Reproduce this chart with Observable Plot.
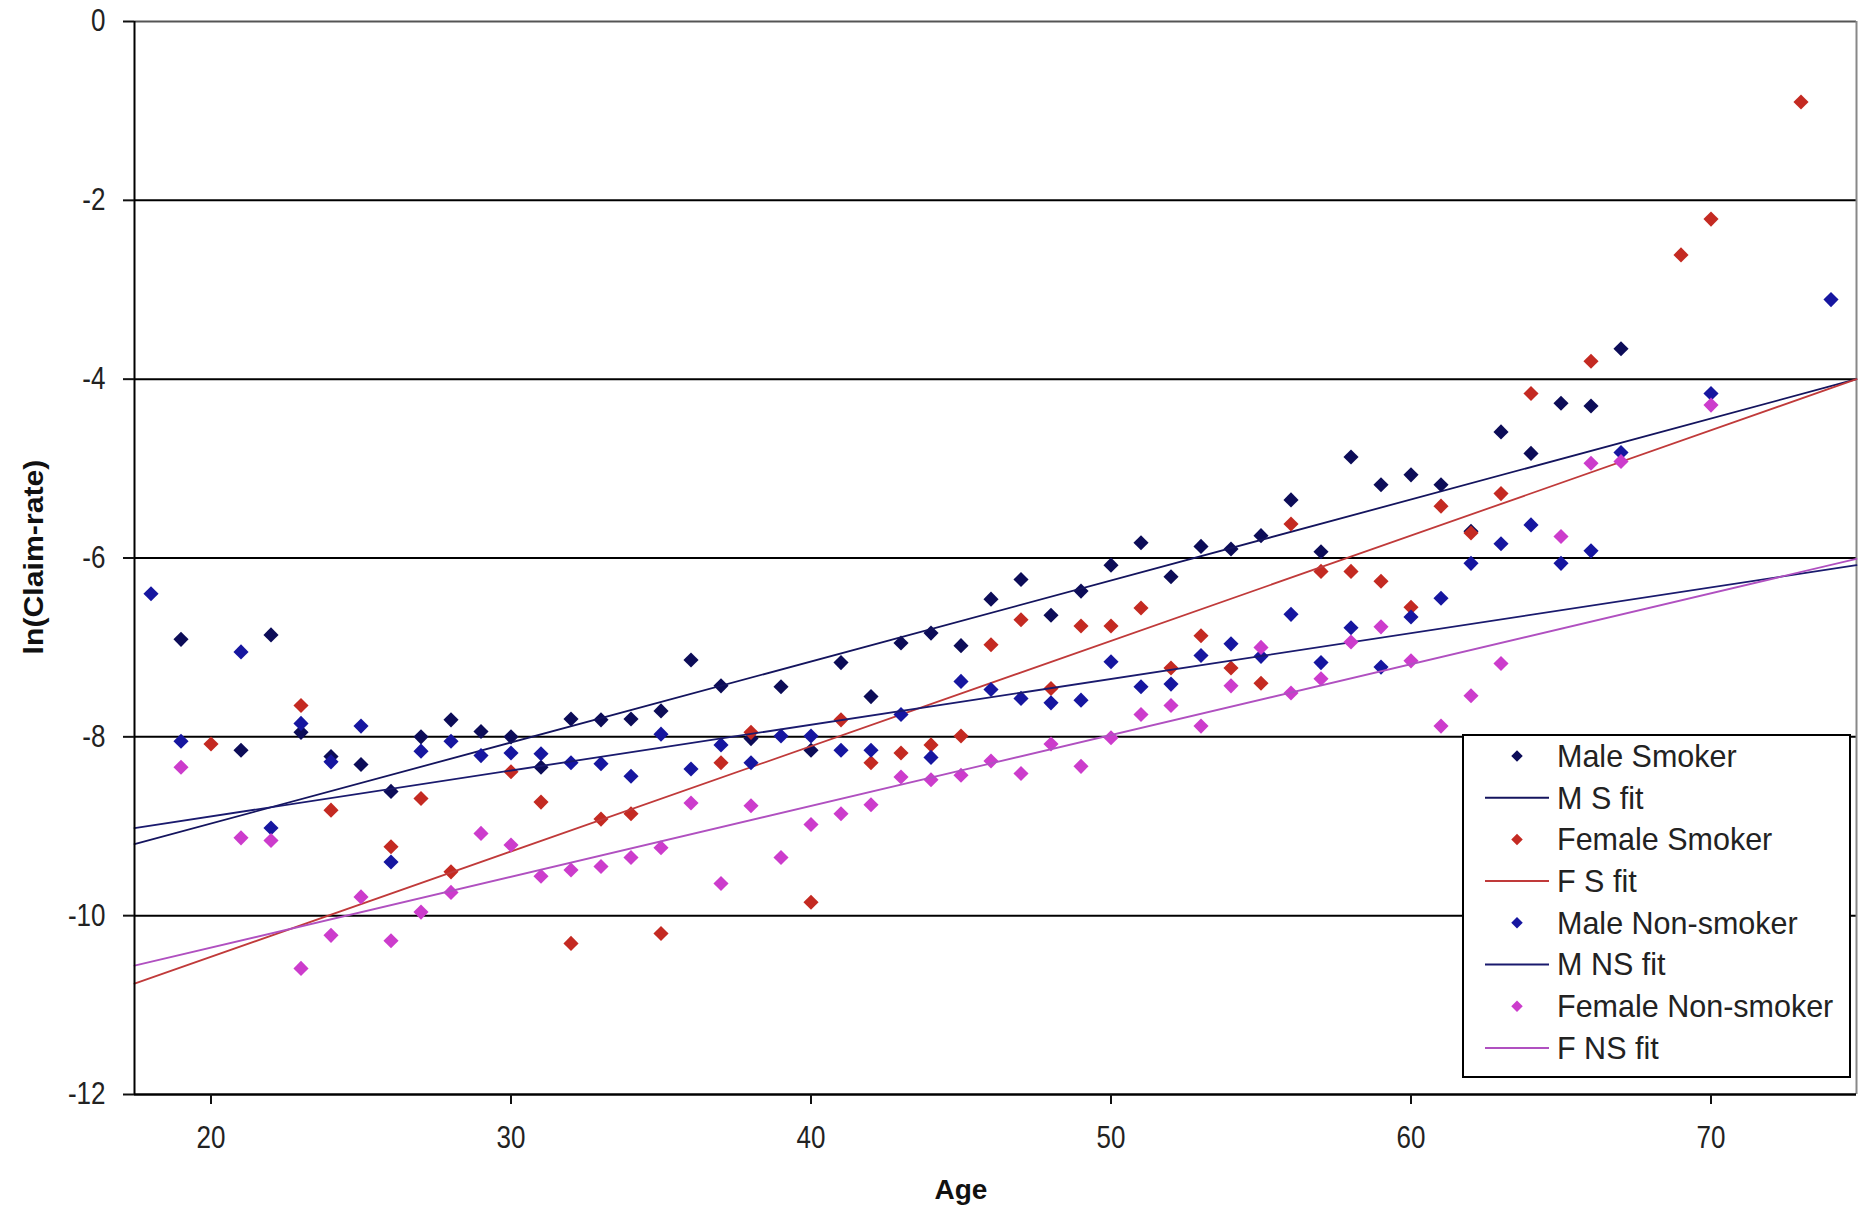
<!DOCTYPE html>
<html>
<head>
<meta charset="utf-8">
<script src="https://cdn.jsdelivr.net/npm/d3@7"></script>
<script src="https://cdn.jsdelivr.net/npm/@observablehq/plot@0.6"></script>
<style>
html, body { margin: 0; padding: 0; background: #fff; }
#chart { position: relative; width: 1860px; height: 1213px; }
</style>
</head>
<body>
<div id="chart"></div>
<script>
// ---------------- DATA ----------------
const maleSmokerAges = [19,21,22,23,24,25,26,27,28,29,30,31,32,33,34,35,36,37,38,39,40,41,42,43,44,45,46,47,48,49,50,51,52,53,54,55,56,57,58,59,60,61,62,63,64,65,66,67];
const maleSmokerValues = [-6.91,-8.15,-6.86,-7.95,-8.22,-8.31,-8.61,-8.00,-7.81,-7.94,-8.00,-8.34,-7.80,-7.81,-7.80,-7.71,-7.14,-7.43,-8.02,-7.44,-8.15,-7.17,-7.55,-6.95,-6.84,-6.98,-6.46,-6.24,-6.64,-6.37,-6.08,-5.83,-6.21,-5.87,-5.90,-5.75,-5.35,-5.93,-4.87,-5.18,-5.07,-5.18,-5.70,-4.59,-4.83,-4.27,-4.30,-3.66];

const femaleSmokerAges = [20,23,24,26,27,28,30,31,32,33,34,35,37,38,40,41,42,43,44,45,46,47,48,49,50,51,52,53,54,55,56,57,58,59,60,61,62,63,64,66,69,70,73];
const femaleSmokerValues = [-8.08,-7.65,-8.82,-9.23,-8.69,-9.51,-8.39,-8.73,-10.31,-8.92,-8.86,-10.20,-8.29,-7.95,-9.85,-7.81,-8.29,-8.18,-8.09,-7.99,-6.97,-6.69,-7.46,-6.76,-6.76,-6.56,-7.23,-6.87,-7.23,-7.40,-5.62,-6.15,-6.15,-6.26,-6.55,-5.42,-5.72,-5.28,-4.16,-3.80,-2.61,-2.21,-0.90];

const maleNonSmokerAges = [18,19,21,22,23,24,25,26,27,28,29,30,31,32,33,34,35,36,37,38,39,40,41,42,43,44,45,46,47,48,49,50,51,52,53,54,55,56,57,58,59,60,61,62,63,64,65,66,67,70,74];
const maleNonSmokerValues = [-6.40,-8.05,-7.05,-9.02,-7.85,-8.28,-7.88,-9.40,-8.16,-8.05,-8.21,-8.18,-8.19,-8.29,-8.30,-8.44,-7.97,-8.36,-8.09,-8.29,-7.99,-7.99,-8.15,-8.15,-7.75,-8.23,-7.38,-7.47,-7.57,-7.62,-7.59,-7.16,-7.44,-7.41,-7.09,-6.96,-7.10,-6.63,-7.17,-6.78,-7.22,-6.66,-6.45,-6.06,-5.84,-5.63,-6.06,-5.92,-4.82,-4.16,-3.11];

const femaleNonSmokerAges = [19,21,22,23,24,25,26,27,28,29,30,31,32,33,34,35,36,37,38,39,40,41,42,43,44,45,46,47,48,49,50,51,52,53,54,55,56,57,58,59,60,61,62,63,65,66,67,70];
const femaleNonSmokerValues = [-8.34,-9.13,-9.16,-10.59,-10.22,-9.79,-10.28,-9.96,-9.74,-9.08,-9.21,-9.56,-9.49,-9.45,-9.35,-9.24,-8.74,-9.64,-8.77,-9.35,-8.98,-8.86,-8.76,-8.45,-8.48,-8.43,-8.27,-8.41,-8.08,-8.33,-8.01,-7.75,-7.65,-7.88,-7.43,-7.00,-7.51,-7.35,-6.94,-6.77,-7.15,-7.88,-7.54,-7.18,-5.76,-4.94,-4.92,-4.29];

// fitted lines: values at the two ends of the age axis
const fitAges = [17.45, 74.85];
const msFitValues = [-9.20, -4.00];
const fsFitValues = [-10.76, -4.00];
const mnsFitValues = [-9.02, -6.08];
const fnsFitValues = [-10.56, -6.01];

const xTicks = [20, 30, 40, 50, 60, 70];
const yTicks = [0, -2, -4, -6, -8, -10, -12];
const xDomain = [17.45, 74.85];
const yDomain = [-12, 0];

const seriesNames = ["Male Smoker", "M S fit", "Female Smoker", "F S fit", "Male Non-smoker", "M NS fit", "Female Non-smoker", "F NS fit"];
const seriesColors = ["#0c0c58", "#14145e", "#c42a22", "#c03a3a", "#1616a0", "#1a1a6e", "#cc3ccc", "#b050c0"];
const seriesKinds = ["dot", "line", "dot", "line", "dot", "line", "dot", "line"];

// ---------------- TABLES ----------------
const rows = (ages, values) => ages.map((a, i) => ({age: a, value: values[i]}));
const seriesData = [
  rows(maleSmokerAges, maleSmokerValues),
  rows(fitAges, msFitValues),
  rows(femaleSmokerAges, femaleSmokerValues),
  rows(fitAges, fsFitValues),
  rows(maleNonSmokerAges, maleNonSmokerValues),
  rows(fitAges, mnsFitValues),
  rows(femaleNonSmokerAges, femaleNonSmokerValues),
  rows(fitAges, fnsFitValues)
];

const dataMarks = seriesData.map((d, i) => seriesKinds[i] === "dot"
  ? Plot.dot(d, {x: "age", y: "value", fill: seriesColors[i], r: 6.8, symbol: "diamond2"})
  : Plot.line(d, {x: "age", y: "value", stroke: seriesColors[i], strokeWidth: 1.8}));

const W = 1860, H = 1213;
const mL = 134, mR = 4, mT = 21, mB = 119;

const chart = Plot.plot({
  width: W,
  height: H,
  marginLeft: mL,
  marginRight: mR,
  marginTop: mT,
  marginBottom: mB,
  style: {fontFamily: "'Liberation Sans', Arial, sans-serif", fontSize: "31px", color: "#111", background: "#fff"},
  x: {domain: xDomain},
  y: {domain: yDomain},
  marks: [
    Plot.ruleY(yTicks.filter(v => v !== 0 && v !== -12), {stroke: "#000", strokeWidth: 2}),
    Plot.ruleY([0], {stroke: "#555", strokeWidth: 2}),
    Plot.ruleX([xDomain[1]], {stroke: "#888", strokeWidth: 2}),
    ...dataMarks,
    Plot.ruleX([xDomain[0]], {stroke: "#000", strokeWidth: 2}),
    Plot.ruleY([-12], {stroke: "#000", strokeWidth: 2.5}),
    Plot.axisX({ticks: xTicks, tickSize: 10, tickPadding: 21, tickFormat: d => String(d), label: null, strokeWidth: 2}),
    Plot.axisY({ticks: yTicks, tickSize: 11, tickPadding: 18, tickFormat: d => String(d), label: null, strokeWidth: 2})
  ]
});

document.getElementById("chart").appendChild(chart);

// narrow the tick labels a little, as in the reference
chart.querySelectorAll('g[aria-label$="tick label"] text').forEach(t => {
  let tr = t.getAttribute("transform") || "";
  const x = t.getAttribute("x"), y = t.getAttribute("y");
  if (x != null && x !== "" && !isNaN(+x)) { tr += ` translate(${+x},0)`; t.removeAttribute("x"); }
  if (y != null && y !== "" && !isNaN(+y)) { tr += ` translate(0,${+y})`; t.removeAttribute("y"); }
  t.setAttribute("transform", tr + " scale(0.84,1)");
  t.setAttribute("fill", "#222");
});

// ---------------- TITLES & LEGEND ----------------
const svg = d3.select(chart);
const font = "'Liberation Sans', Arial, sans-serif";

svg.append("text")
  .attr("transform", "translate(33,557) rotate(-90) scale(1.08,1)")
  .attr("text-anchor", "middle")
  .attr("dominant-baseline", "central")
  .attr("font-family", font)
  .attr("font-weight", "bold")
  .attr("font-size", 28)
  .attr("fill", "#111")
  .text("ln(Claim-rate)");

svg.append("text")
  .attr("x", 961).attr("y", 1199)
  .attr("text-anchor", "middle")
  .attr("font-family", font)
  .attr("font-weight", "bold")
  .attr("font-size", 28)
  .attr("fill", "#111")
  .text("Age");

const lg = svg.append("g").attr("class", "legend");
const lgX = 1463, lgY = 735, lgW = 387, lgH = 342;
lg.append("rect").attr("x", lgX).attr("y", lgY).attr("width", lgW).attr("height", lgH)
  .attr("fill", "#fff").attr("stroke", "#000").attr("stroke-width", 2);
const rowY0 = 756, rowStep = 41.7, fs = 30.5;
seriesNames.forEach((name, i) => {
  const cy = rowY0 + i * rowStep;
  if (seriesKinds[i] === "dot") {
    lg.append("path")
      .attr("d", d3.symbol(d3.symbolDiamond2, 85)())
      .attr("transform", `translate(1517,${cy})`)
      .attr("fill", seriesColors[i]);
  } else {
    lg.append("line")
      .attr("x1", 1485).attr("x2", 1549).attr("y1", cy).attr("y2", cy)
      .attr("stroke", seriesColors[i]).attr("stroke-width", 2);
  }
  lg.append("text")
    .attr("x", 1557).attr("y", cy + 0.358 * fs)
    .attr("text-anchor", "start")
    .attr("font-family", font)
    .attr("font-size", fs)
    .attr("fill", "#222")
    .text(name);
});
</script>
</body>
</html>
